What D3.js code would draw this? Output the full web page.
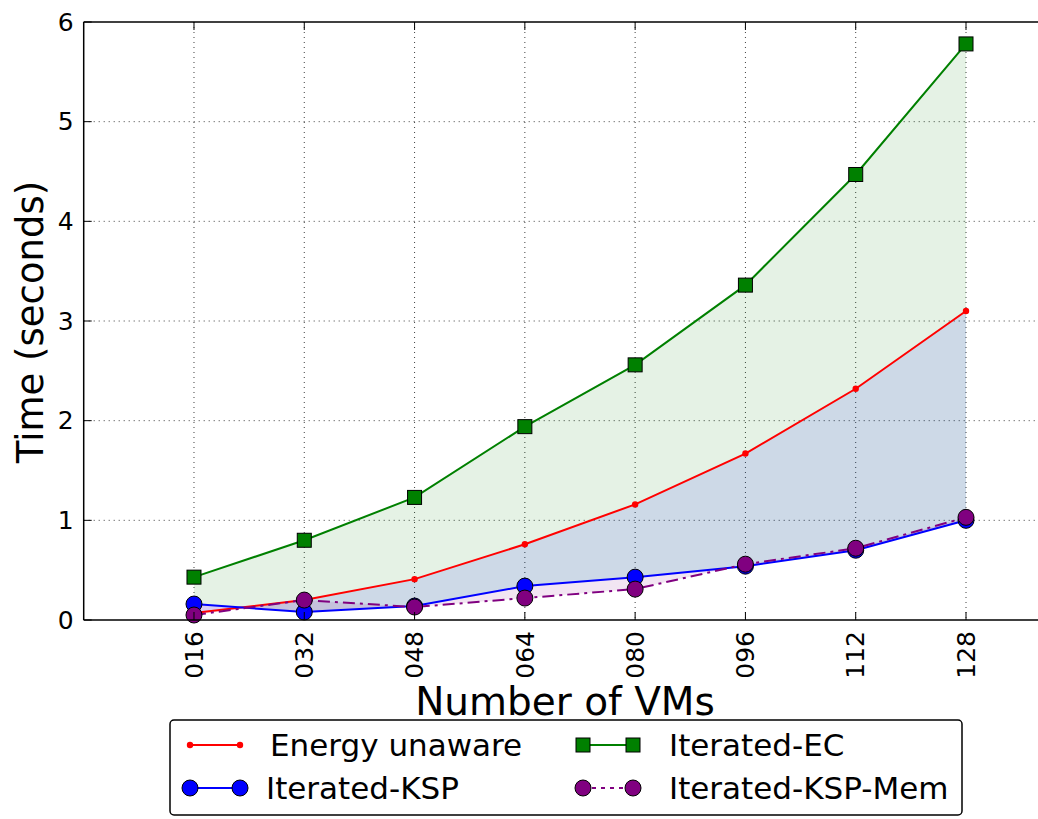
<!DOCTYPE html>
<html>
<head>
<meta charset="utf-8">
<script src="https://cdn.jsdelivr.net/npm/d3@7"></script>
<style>
  body { margin: 0; background: #fff; }
  svg { display: block; font-family: "DejaVu Sans", sans-serif; }
</style>
</head>
<body>
<div id="chart"></div>
<script>
// data
const categories = ['016', '032', '048', '064', '080', '096', '112', '128'];
const vms = [16, 32, 48, 64, 80, 96, 112, 128];
const energyUnaware = [0.07, 0.20, 0.41, 0.76, 1.16, 1.67, 2.32, 3.10];
const iteratedEC = [0.43, 0.80, 1.23, 1.94, 2.56, 3.36, 4.47, 5.78];
const iteratedKSP = [0.16, 0.08, 0.14, 0.34, 0.43, 0.54, 0.70, 1.00];
const iteratedKSPMem = [0.05, 0.20, 0.13, 0.22, 0.31, 0.56, 0.72, 1.03];
const yTicks = [0, 1, 2, 3, 4, 5, 6];

const W = 1038, H = 819;
const plotLeft = 83.7, plotTop = 22, plotBottom = 620;

let x = d3.scaleLinear().domain([0, 140]).range([plotLeft, plotLeft + 140 * 6.893]);
let y = d3.scaleLinear().domain([0, 6]).range([plotBottom, plotTop]);

let svg = d3.select('#chart').append('svg').attr('width', W).attr('height', H);

// grid
let grid = svg.append('g').attr('stroke', '#000').attr('stroke-width', 1)
  .attr('stroke-dasharray', '1,4').attr('opacity', 0.75);
vms.forEach(v => grid.append('line').attr('x1', x(v)).attr('x2', x(v)).attr('y1', plotTop).attr('y2', plotBottom));
yTicks.slice(1, -1).forEach(t => grid.append('line').attr('x1', plotLeft).attr('x2', W).attr('y1', y(t)).attr('y2', y(t)));

// fills
const idx = d3.range(vms.length);
function band(hi, lo, color) {
  svg.append('path')
    .datum(idx)
    .attr('d', d3.area().x(i => x(vms[i])).y0(i => y(lo[i])).y1(i => y(hi[i])))
    .attr('fill', color).attr('fill-opacity', 0.1);
}
band(iteratedEC, iteratedKSP, 'green');
band(energyUnaware, iteratedKSP, 'blue');
band(iteratedKSP, iteratedKSPMem, 'purple');

// series
const series = [
  { name: 'Energy unaware', vals: energyUnaware, color: 'red', marker: 'dot', dash: null },
  { name: 'Iterated-EC', vals: iteratedEC, color: 'green', marker: 'square', dash: null },
  { name: 'Iterated-KSP', vals: iteratedKSP, color: 'blue', marker: 'circle', dash: null },
  { name: 'Iterated-KSP-Mem', vals: iteratedKSPMem, color: 'purple', marker: 'circle', dash: '12,5,3,5' }
];

function drawMarker(g, kind, color, cx, cy) {
  if (kind === 'dot') {
    g.append('circle').attr('cx', cx).attr('cy', cy).attr('r', 3.2).attr('fill', color);
  } else if (kind === 'square') {
    g.append('rect').attr('x', cx - 7).attr('y', cy - 7).attr('width', 14).attr('height', 14)
      .attr('fill', color).attr('stroke', '#000').attr('stroke-width', 1);
  } else {
    g.append('circle').attr('cx', cx).attr('cy', cy).attr('r', 8)
      .attr('fill', color).attr('stroke', '#000').attr('stroke-width', 1);
  }
}

let line = d3.line();
series.forEach(s => {
  let g = svg.append('g');
  g.append('path')
    .attr('d', line(idx.map(i => [x(vms[i]), y(s.vals[i])])))
    .attr('fill', 'none').attr('stroke', s.color).attr('stroke-width', 2)
    .attr('stroke-dasharray', s.dash);
  idx.forEach(i => drawMarker(g, s.marker, s.color, x(vms[i]), y(s.vals[i])));
});

// spines and ticks
let ax = svg.append('g').attr('stroke', '#000');
ax.append('line').attr('x1', plotLeft).attr('x2', plotLeft).attr('y1', plotTop).attr('y2', plotBottom).attr('stroke-width', 1.5);
ax.append('line').attr('x1', plotLeft).attr('x2', W).attr('y1', plotTop).attr('y2', plotTop).attr('stroke-width', 1.5);
ax.append('line').attr('x1', plotLeft).attr('x2', W).attr('y1', plotBottom).attr('y2', plotBottom).attr('stroke-width', 1.5);
vms.forEach(v => {
  ax.append('line').attr('x1', x(v)).attr('x2', x(v)).attr('y1', plotBottom).attr('y2', plotBottom - 8);
  ax.append('line').attr('x1', x(v)).attr('x2', x(v)).attr('y1', plotTop).attr('y2', plotTop + 8);
});
yTicks.forEach(t => {
  ax.append('line').attr('x1', plotLeft).attr('x2', plotLeft + 8).attr('y1', y(t)).attr('y2', y(t));
});

// tick labels
svg.append('g').selectAll('text').data(yTicks).join('text')
  .attr('x', plotLeft - 10).attr('y', d => y(d)).attr('dy', '0.35em')
  .attr('text-anchor', 'end').attr('font-size', 25).attr('fill', '#000')
  .text(d => d);
svg.append('g').selectAll('text').data(idx).join('text')
  .attr('transform', i => `translate(${x(vms[i])},${plotBottom + 11}) rotate(-90)`)
  .attr('dy', '0.35em').attr('text-anchor', 'end').attr('font-size', 25).attr('fill', '#000')
  .text(i => categories[i]);

// axis titles
svg.append('text').attr('x', 565).attr('y', 715).attr('text-anchor', 'middle')
  .attr('font-size', 39).text('Number of VMs');
svg.append('text').attr('transform', 'translate(43,322) rotate(-90)').attr('text-anchor', 'middle')
  .attr('font-size', 37).text('Time (seconds)');

// legend
let lg = svg.append('g');
lg.append('rect').attr('x', 170).attr('y', 720).attr('width', 792).attr('height', 95).attr('rx', 4)
  .attr('fill', '#fff').attr('stroke', '#000').attr('stroke-width', 1.5);
const legendPos = [
  { lx: 190, ty: 745, tx: 270 },
  { lx: 583, ty: 745, tx: 669 },
  { lx: 190, ty: 788, tx: 266 },
  { lx: 583, ty: 788, tx: 669 }
];
series.forEach((s, k) => {
  let p = legendPos[k];
  lg.append('line').attr('x1', p.lx).attr('x2', p.lx + 50).attr('y1', p.ty).attr('y2', p.ty)
    .attr('stroke', s.color).attr('stroke-width', 2).attr('stroke-dasharray', s.dash ? '4,5' : null);
  drawMarker(lg, s.marker, s.color, p.lx, p.ty);
  drawMarker(lg, s.marker, s.color, p.lx + 50, p.ty);
  lg.append('text').attr('x', p.tx).attr('y', p.ty).attr('dy', '0.35em')
    .attr('font-size', 31).text(s.name);
});
</script>
</body>
</html>
